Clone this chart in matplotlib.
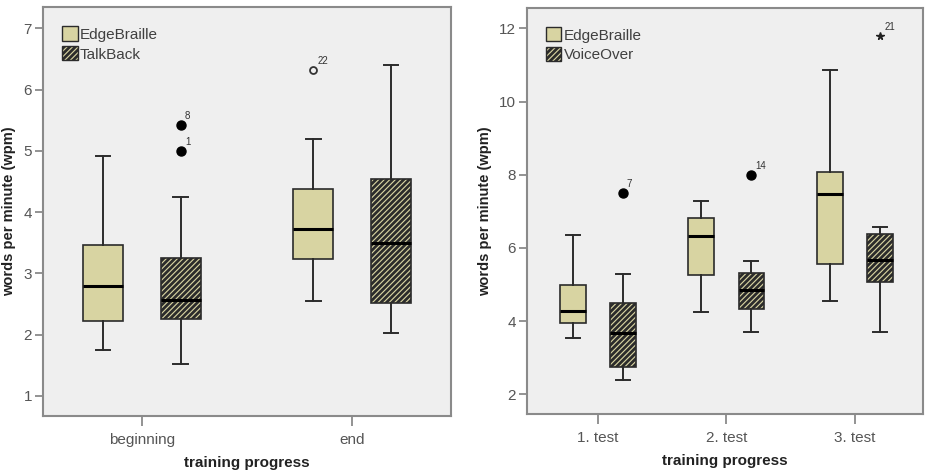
import matplotlib
matplotlib.use("Agg")
import matplotlib.pyplot as plt
from matplotlib.patches import Patch

plt.rcParams['font.family'] = ['Liberation Sans', 'DejaVu Sans']
plt.rcParams['hatch.linewidth'] = 2.0

# ---------------- data ----------------
left_categories = ["beginning", "end"]
left_series = ["EdgeBraille", "TalkBack"]
# [whisker low, Q1, median, Q3, whisker high]
left_edge = [[1.74, 2.22, 2.79, 3.46, 4.92], [2.55, 3.23, 3.73, 4.38, 5.20]]
left_talk = [[1.52, 2.25, 2.56, 3.25, 4.25], [2.02, 2.52, 3.50, 4.54, 6.41]]
left_edge_out = [[], [6.32]]
left_edge_out_labels = [[], ["22"]]
left_edge_out_marker = [[], ["o_open"]]
left_talk_out = [[5.42, 4.99], []]
left_talk_out_labels = [["8", "1"], []]
left_talk_out_marker = [["o", "o"], []]

right_categories = ["1. test", "2. test", "3. test"]
right_series = ["EdgeBraille", "VoiceOver"]
right_edge = [[3.55, 3.95, 4.27, 4.99, 6.36], [4.25, 5.27, 6.32, 6.81, 7.29],
              [4.54, 5.56, 7.47, 8.07, 10.87]]
right_voice = [[2.39, 2.75, 3.68, 4.49, 5.29], [3.70, 4.34, 4.86, 5.31, 5.64],
               [3.70, 5.06, 5.67, 6.38, 6.56]]
right_edge_out = [[], [], []]
right_edge_out_labels = [[], [], []]
right_edge_out_marker = [[], [], []]
right_voice_out = [[7.49], [7.99], [11.79]]
right_voice_out_labels = [["7"], ["14"], ["21"]]
right_voice_out_marker = [["o"], ["o"], ["*"]]

BEIGE = "#d8d4a2"
EDGE = "#2b2b2b"
AXBG = "#efefef"
SPINE = "#8a8a8a"
TICKC = "#555555"
HATCH = "//////"

fig = plt.figure(figsize=(9.25, 4.72), dpi=100)
fig.patch.set_facecolor("white")

ax1 = fig.add_axes([43/925, 1-416/472, 408/925, 409/472])
ax2 = fig.add_axes([527/925, 1-414/472, 396/925, 406/472])


def make_stats(vals):
    lo, q1, med, q3, hi = vals
    return dict(whislo=lo, q1=q1, med=med, q3=q3, whishi=hi, fliers=[])


def draw(ax, cats, names, edge, other, outs, labs, marks, offset, width, capw, ylim, xlim, yticks):
    pos = list(range(len(cats)))
    for k, (data, hatch) in enumerate([(edge, None), (other, HATCH)]):
        sign = -1 if k == 0 else 1
        p = [x + sign * offset for x in pos]
        stats = [make_stats(v) for v in data]
        ax.bxp(stats, positions=p, widths=width, patch_artist=True,
               showfliers=False, capwidths=capw, manage_ticks=False,
               boxprops=dict(facecolor=BEIGE, edgecolor=EDGE, linewidth=1.2, hatch=hatch),
               whiskerprops=dict(color=EDGE, linewidth=1.4),
               capprops=dict(color=EDGE, linewidth=1.4),
               medianprops=dict(color="black", linewidth=2.2))
        for xi, ys, ls, ms in zip(p, outs[k], labs[k], marks[k]):
            for y, l, m in zip(ys, ls, ms):
                if m == "o":
                    ax.plot(xi, y, "o", ms=6.5, mfc="black", mec="black", zorder=5)
                elif m == "o_open":
                    ax.plot(xi, y, "o", ms=5, mfc="none", mec="#333333", mew=1.3, zorder=5)
                else:
                    ax.plot(xi, y, "*", ms=5.5, mfc="#222222", mec="#222222", zorder=5)
                ax.annotate(l, (xi, y), xytext=(3, 3), textcoords="offset points",
                            fontsize=7, color="#333333", ha="left", va="bottom")
    ax.set_xlim(*xlim)
    ax.set_ylim(*ylim)
    ax.set_xticks(pos)
    ax.set_xticklabels(cats)
    ax.set_yticks(yticks)
    ax.set_facecolor(AXBG)
    for s in ax.spines.values():
        s.set_color(SPINE)
        s.set_linewidth(1.5)
    ax.tick_params(axis="y", direction="out", length=6, width=1.3, color=SPINE,
                   labelcolor=TICKC, labelsize=11, pad=2)
    ax.tick_params(axis="x", direction="out", length=7, width=1.3, color=SPINE,
                   labelcolor=TICKC, labelsize=11, pad=5)
    ax.set_xlabel("training progress", fontsize=11, fontweight="bold", color="#222222", labelpad=7)
    ax.set_ylabel("words per minute (wpm)", fontsize=10.5, fontweight="bold", color="#222222", labelpad=5)
    handles = [Patch(facecolor=BEIGE, edgecolor=EDGE, linewidth=1.0, label=names[0]),
               Patch(facecolor=BEIGE, edgecolor=EDGE, linewidth=1.0, hatch=HATCH, label=names[1])]
    leg = ax.legend(handles=handles, loc="upper left", bbox_to_anchor=(0.025, 0.975),
                    frameon=False, fontsize=11, handlelength=1.0, handleheight=1.05,
                    handletextpad=0.15, labelspacing=0.3, borderaxespad=0.2)
    for t in leg.get_texts():
        t.set_color("#404040")


draw(ax1, left_categories, left_series, left_edge, left_talk,
     [left_edge_out, left_talk_out], [left_edge_out_labels, left_talk_out_labels],
     [left_edge_out_marker, left_talk_out_marker],
     offset=0.185, width=0.19, capw=0.07, ylim=(0.67, 7.35), xlim=(-0.47, 1.47),
     yticks=[1, 2, 3, 4, 5, 6, 7])

draw(ax2, right_categories, right_series, right_edge, right_voice,
     [right_edge_out, right_voice_out], [right_edge_out_labels, right_voice_out_labels],
     [right_edge_out_marker, right_voice_out_marker],
     offset=0.195, width=0.2, capw=0.11, ylim=(1.46, 12.56), xlim=(-0.55, 2.53),
     yticks=[2, 4, 6, 8, 10, 12])

fig.savefig("out.png", dpi=100)
